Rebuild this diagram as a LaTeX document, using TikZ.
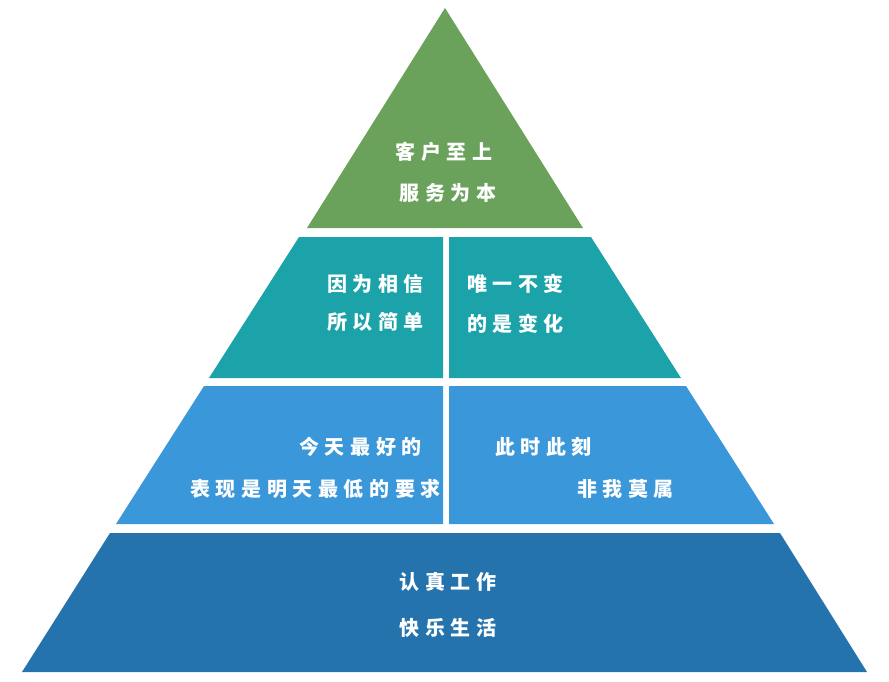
\documentclass[tikz,border=0pt]{standalone}
\usepackage{fontspec}
\newfontfamily\cjk[LetterSpace=28]{Noto Sans CJK SC}
\definecolor{cg}{HTML}{6AA15B}
\definecolor{ct}{HTML}{1BA3A9}
\definecolor{cb}{HTML}{3A97D9}
\definecolor{cd}{HTML}{2473AD}
\tikzset{lbl/.style={text=white,font=\cjk\bfseries\fontsize{20}{24}\selectfont,inner sep=0pt}}
\begin{document}
\begin{tikzpicture}[x=1pt,y=-1pt]
\useasboundingbox (0,0) rectangle (889,681);
\fill[cg] (445,8) -- (583,228) -- (307,228) -- cycle;
\fill[ct] (299,237) -- (443,237) -- (443,378) -- (209,378) -- cycle;
\fill[ct] (449,237) -- (591,237) -- (681,378) -- (449,378) -- cycle;
\fill[cb] (204,386) -- (443,386) -- (443,524) -- (116,524) -- cycle;
\fill[cb] (449,386) -- (686,386) -- (774,524) -- (449,524) -- cycle;
\fill[cd] (110,533) -- (780,533) -- (867,672) -- (22,672) -- cycle;
\node[lbl] (t1) at (444,152) {客户至上};
\node[lbl] (t2) at (448,193) {服务为本};
\node[lbl,anchor=east] (a1) at (424,284) {因为相信};
\node[lbl,anchor=east] (a2) at (424,322) {所以简单};
\node[lbl,anchor=west] (b1) at (467,284) {唯一不变};
\node[lbl,anchor=west] (b2) at (467,324) {的是变化};
\node[lbl,anchor=east] (c1) at (422,447) {今天最好的};
\node[lbl,anchor=east] (c2) at (441,489) {表现是明天最低的要求};
\node[lbl,anchor=west] (d1) at (495,447) {此时此刻};
\node[lbl,anchor=east] (d2) at (674,489) {非我莫属};
\node[lbl] (e1) at (448,582) {认真工作};
\node[lbl] (e2) at (448,628) {快乐生活};
\end{tikzpicture}
\end{document}
